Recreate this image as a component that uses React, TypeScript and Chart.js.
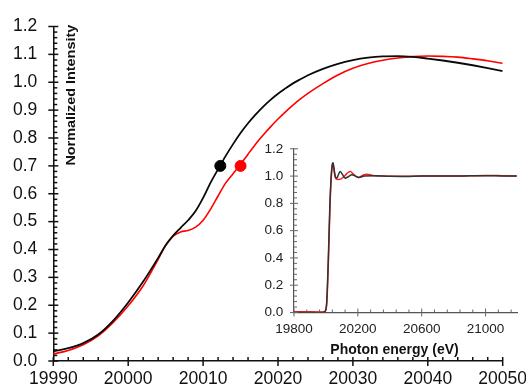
import React, { useEffect, useRef } from 'react';
import { Chart, registerables } from 'chart.js';

Chart.register(...registerables);

const FONT = "'Liberation Sans', Arial, Helvetica, sans-serif";

// ---------- main chart data ----------
const mainEnergy = [
  19990, 19992, 19994, 19996, 19998, 20000, 20002, 20004, 20005, 20006, 20007,
  20008, 20009, 20010, 20011, 20012, 20013, 20014, 20015, 20016, 20017, 20018,
  20019, 20020, 20021, 20022, 20023, 20024, 20026, 20028, 20030, 20032, 20034,
  20036, 20038, 20040, 20042, 20044, 20046, 20048, 20050,
];
const mainBlack = [
  0.035, 0.046, 0.064, 0.095, 0.145, 0.21, 0.285, 0.37, 0.415, 0.45, 0.478,
  0.505, 0.538, 0.585, 0.64, 0.688, 0.735, 0.778, 0.818, 0.853, 0.884, 0.912,
  0.937, 0.959, 0.978, 0.996, 1.011, 1.025, 1.048, 1.066, 1.079, 1.088, 1.093,
  1.094, 1.091, 1.085, 1.078, 1.07, 1.061, 1.051, 1.04,
];
const mainRed = [
  0.025, 0.038, 0.058, 0.09, 0.138, 0.198, 0.27, 0.365, 0.415, 0.448, 0.463,
  0.468, 0.48, 0.505, 0.545, 0.592, 0.638, 0.672, 0.705, 0.742, 0.778, 0.81,
  0.84, 0.868, 0.894, 0.918, 0.94, 0.96, 0.995, 1.026, 1.05, 1.067, 1.079,
  1.087, 1.092, 1.094, 1.093, 1.09, 1.084, 1.077, 1.068,
];
const markerEnergy = [20012.3, 20015.0];
const markerValue = [0.7, 0.7];

const mainXLabels = [19990, 20000, 20010, 20020, 20030, 20040, 20050];
const mainYLabels = [0, 0.1, 0.2, 0.3, 0.4, 0.5, 0.6, 0.7, 0.8, 0.9, 1.0, 1.1, 1.2];

// ---------- inset data ----------
const insetBlackEnergy = [
  19800, 19900, 19980, 19995, 20005, 20015, 20025, 20033, 20039, 20044, 20050,
  20058, 20068, 20078, 20089, 20102, 20120, 20140, 20162, 20185, 20205, 20240,
  20300, 20400, 20500, 20600, 20700, 20800, 20900, 21000, 21100, 21195,
];
const insetBlack = [
  0, 0, 0, 0.01, 0.08, 0.4, 0.8, 1.0, 1.08, 1.097, 1.06,
  1.0, 0.985, 1.01, 1.033, 1.015, 0.985, 0.995, 1.009, 1.0, 0.99, 1.0,
  1.003, 0.998, 0.997, 1.0, 1.0, 1.0, 1.002, 1.003, 1.001, 1.0,
];
const insetRedEnergy = [
  19800, 19900, 19980, 19995, 20005, 20015, 20025, 20033, 20039, 20044, 20050,
  20060, 20075, 20095, 20112, 20132, 20152, 20175, 20203, 20230, 20255, 20290,
  20350, 20450, 20600, 20800, 21000, 21100, 21195,
];
const insetRed = [
  0.005, 0.005, 0.004, 0.008, 0.06, 0.35, 0.76, 0.98, 1.07, 1.095, 1.05,
  0.985, 0.975, 0.98, 0.995, 1.02, 1.033, 1.01, 0.99, 1.005, 1.014, 1.005,
  1.0, 0.998, 1.0, 1.0, 1.005, 1.003, 1.0,
];

const insetXLabels = [19800, 20200, 20600, 21000];
const insetYLabels = [0, 0.2, 0.4, 0.6, 0.8, 1.0, 1.2];

// ---------- helpers ----------
function tickRange(min: number, max: number, step: number) {
  const out: number[] = [];
  const n = Math.round((max - min) / step);
  for (let i = 0; i <= n; i++) out.push(+(min + i * step).toFixed(6));
  return out;
}
function isLabel(labels: number[], v: number) {
  return labels.some((l) => Math.abs(l - v) < 1e-6);
}

type TickCfg = {
  color: string;
  width: number;
  xLabels: number[];
  yLabels: number[];
  xMajorIn: number; xMajorOut: number; xMinorIn: number; xMinorOut: number;
  yMajorIn: number; yMajorOut: number; yMinorIn: number; yMinorOut: number;
};

function makeTickPlugin(cfg: TickCfg) {
  return {
    id: 'tickMarks',
    afterDraw(chart: any) {
      const { ctx } = chart;
      const xs = chart.scales.x;
      const ys = chart.scales.y;
      const axisY = ys.getPixelForValue(ys.min);
      const axisX = xs.getPixelForValue(xs.min);
      ctx.save();
      ctx.strokeStyle = cfg.color;
      ctx.lineWidth = cfg.width;
      xs.ticks.forEach((t: any) => {
        const p = xs.getPixelForValue(t.value);
        const major = isLabel(cfg.xLabels, t.value);
        ctx.beginPath();
        ctx.moveTo(p, axisY - (major ? cfg.xMajorIn : cfg.xMinorIn));
        ctx.lineTo(p, axisY + (major ? cfg.xMajorOut : cfg.xMinorOut));
        ctx.stroke();
      });
      ys.ticks.forEach((t: any) => {
        const p = ys.getPixelForValue(t.value);
        const major = isLabel(cfg.yLabels, t.value);
        ctx.beginPath();
        ctx.moveTo(axisX - (major ? cfg.yMajorOut : cfg.yMinorOut), p);
        ctx.lineTo(axisX + (major ? cfg.yMajorIn : cfg.yMinorIn), p);
        ctx.stroke();
      });
      ctx.restore();
    },
  };
}

type TextItem = { text: string; dx: number; dy: number; rot: number; sx: number; size: number; color: string };
function makeTextPlugin(items: TextItem[]) {
  return {
    id: 'freeText',
    afterDraw(chart: any) {
      const { ctx, chartArea } = chart;
      items.forEach((it) => {
        ctx.save();
        ctx.translate(chartArea.left + it.dx, chartArea.top + it.dy);
        ctx.rotate(it.rot);
        ctx.scale(it.sx, 1);
        ctx.font = `bold ${it.size}px ${FONT}`;
        ctx.fillStyle = it.color;
        ctx.textAlign = 'center';
        ctx.textBaseline = 'middle';
        ctx.fillText(it.text, 0, 0);
        ctx.restore();
      });
    },
  };
}

function toXY(xs: number[], ys: number[]) {
  return xs.map((x, i) => ({ x, y: ys[i] }));
}

export default function App() {
  const mainRef = useRef<HTMLCanvasElement>(null);
  const insetRef = useRef<HTMLCanvasElement>(null);

  useEffect(() => {
    const mainXTicks = tickRange(19990, 20050, 2);
    const mainYTicks = tickRange(0, 1.2, 0.02);
    const insetXTicks = tickRange(19800, 21160, 80);
    const insetYTicks = tickRange(0, 1.2, 0.04);

    const main = new Chart(mainRef.current as HTMLCanvasElement, {
      type: 'line',
      data: {
        datasets: [
          {
            type: 'scatter',
            data: [{ x: markerEnergy[0], y: markerValue[0] }],
            pointRadius: 5.5,
            backgroundColor: '#000',
            borderColor: '#000',
            showLine: false,
          } as any,
          {
            type: 'scatter',
            data: [{ x: markerEnergy[1], y: markerValue[1] }],
            pointRadius: 5.5,
            backgroundColor: '#ff0000',
            borderColor: '#ff0000',
            showLine: false,
          } as any,
          {
            data: toXY(mainEnergy, mainBlack),
            borderColor: '#0a0a0a',
            borderWidth: 1.8,
            pointRadius: 0,
            cubicInterpolationMode: 'monotone',
          },
          {
            data: toXY(mainEnergy, mainRed),
            borderColor: '#ff0000',
            borderWidth: 1.6,
            pointRadius: 0,
            cubicInterpolationMode: 'monotone',
          },
        ],
      },
      options: {
        animation: false,
        responsive: false,
        events: [],
        layout: { padding: { top: 23, right: 57.3, left: 0, bottom: 0 } },
        plugins: { legend: { display: false }, tooltip: { enabled: false } },
        scales: {
          x: {
            type: 'linear',
            min: 19990,
            max: 20050,
            afterBuildTicks: (s: any) => { s.ticks = mainXTicks.map((v) => ({ value: v })); },
            afterFit: (s: any) => { s.height = 39; },
            ticks: {
              autoSkip: false,
              maxRotation: 0,
              padding: 8,
              color: '#111',
              font: { family: FONT, size: 17.5 },
              callback: (v: any) => (isLabel(mainXLabels, Number(v)) ? String(Math.round(Number(v))) : ''),
            },
            grid: { display: true, drawOnChartArea: false, drawTicks: false },
            border: { display: true, color: '#111', width: 1.5 },
          },
          y: {
            type: 'linear',
            min: 0,
            max: 1.2,
            afterBuildTicks: (s: any) => { s.ticks = mainYTicks.map((v) => ({ value: v })); },
            afterFit: (s: any) => { s.width = 53.3; },
            ticks: {
              autoSkip: false,
              padding: 16,
              color: '#111',
              font: { family: FONT, size: 17.5 },
              callback: (v: any) => (isLabel(mainYLabels, Number(v)) ? Number(v).toFixed(1) : ''),
            },
            grid: { display: true, drawOnChartArea: false, drawTicks: false },
            border: { display: true, color: '#111', width: 1.5 },
          },
        },
      } as any,
      plugins: [
        makeTickPlugin({
          color: '#111', width: 1.5, xLabels: mainXLabels, yLabels: mainYLabels,
          xMajorIn: 4, xMajorOut: 5, xMinorIn: 4, xMinorOut: 0,
          yMajorIn: 5, yMajorOut: 5, yMinorIn: 4, yMinorOut: 0,
        }),
        makeTextPlugin([
          { text: 'Normalized Intensity', dx: 18, dy: 68.7, rot: -Math.PI / 2, sx: 1.2, size: 12, color: '#111' },
        ]),
      ],
    });

    const inset = new Chart(insetRef.current as HTMLCanvasElement, {
      type: 'line',
      data: {
        datasets: [
          {
            data: toXY(insetBlackEnergy, insetBlack),
            borderColor: '#333',
            borderWidth: 1.5,
            pointRadius: 0,
            cubicInterpolationMode: 'monotone',
          },
          {
            data: toXY(insetRedEnergy, insetRed),
            borderColor: '#ff1a1a',
            borderWidth: 1.5,
            pointRadius: 0,
            cubicInterpolationMode: 'monotone',
          },
        ],
      },
      options: {
        animation: false,
        responsive: false,
        events: [],
        layout: { padding: { top: 15.3, right: 12.5, left: 0, bottom: 0 } },
        plugins: { legend: { display: false }, tooltip: { enabled: false } },
        scales: {
          x: {
            type: 'linear',
            min: 19800,
            max: 21200,
            afterBuildTicks: (s: any) => { s.ticks = insetXTicks.map((v) => ({ value: v })); },
            afterFit: (s: any) => { s.height = 47.5; },
            ticks: {
              autoSkip: false,
              maxRotation: 0,
              padding: 8.5,
              color: '#222',
              font: { family: FONT, size: 13.5 },
              callback: (v: any) => (isLabel(insetXLabels, Number(v)) ? String(Math.round(Number(v))) : ''),
            },
            grid: { display: true, drawOnChartArea: false, drawTicks: false },
            border: { display: true, color: '#555', width: 1.2 },
          },
          y: {
            type: 'linear',
            min: 0,
            max: 1.2,
            afterBuildTicks: (s: any) => { s.ticks = insetYTicks.map((v) => ({ value: v })); },
            afterFit: (s: any) => { s.width = 64; },
            ticks: {
              autoSkip: false,
              padding: 10.7,
              color: '#222',
              font: { family: FONT, size: 13.5 },
              callback: (v: any) => (isLabel(insetYLabels, Number(v)) ? Number(v).toFixed(1) : ''),
            },
            grid: { display: true, drawOnChartArea: false, drawTicks: false },
            border: { display: true, color: '#555', width: 1.2 },
          },
        },
      } as any,
      plugins: [
        makeTickPlugin({
          color: '#666', width: 1, xLabels: insetXLabels, yLabels: insetYLabels,
          xMajorIn: 4, xMajorOut: 4, xMinorIn: 3, xMinorOut: 0,
          yMajorIn: 4, yMajorOut: 4, yMinorIn: 3, yMinorOut: 0,
        }),
        makeTextPlugin([
          { text: 'Photon energy (eV)', dx: 100.5, dy: 201.4, rot: 0, sx: 1, size: 14, color: '#111' },
        ]),
      ],
    });

    return () => {
      main.destroy();
      inset.destroy();
    };
  }, []);

  return (
    <div
      style={{
        position: 'fixed',
        left: 0,
        top: 0,
        width: 526,
        height: 390,
        overflow: 'hidden',
        background: '#fff',
      }}
    >
      <canvas ref={mainRef} width={560} height={400} style={{ position: 'absolute', left: 0, top: 0 }} />
      <canvas ref={insetRef} width={300} height={230} style={{ position: 'absolute', left: 230, top: 130 }} />
    </div>
  );
}
